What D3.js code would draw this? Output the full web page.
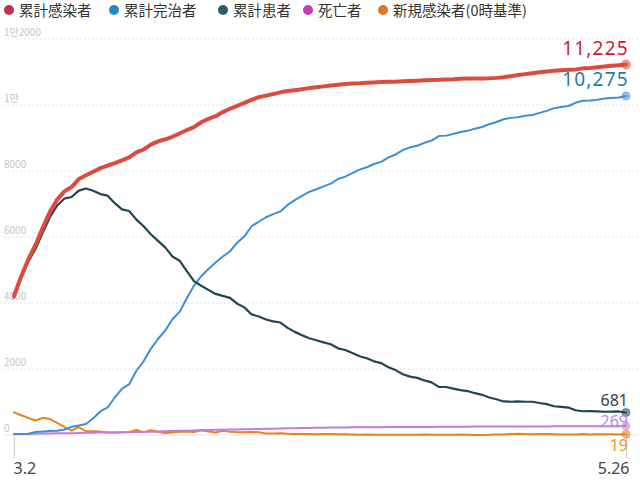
<!DOCTYPE html>
<html><head><meta charset="utf-8">
<script src="https://cdn.jsdelivr.net/npm/d3@7"></script>
<style>
html,body{margin:0;padding:0;background:#fff;}
svg{display:block;}
</style></head>
<body>
<svg id="chart" width="640" height="480"></svg>
<script>
// ---- data (Mar 2 .. May 26, daily) ----
const startDate = new Date(2020, 2, 2);
const endDate = new Date(2020, 4, 26);
const dates = d3.timeDay.range(startDate, d3.timeDay.offset(endDate, 1));

const seriesNames = ["累計感染者", "累計完治者", "累計患者", "死亡者", "新規感染者(0時基準)"];

const confirmed = [4212,4812,5328,5766,6284,6767,7134,7382,7513,7755,7869,7979,8086,8162,8236,8320,8413,8565,8652,8799,8897,8961,9037,9137,9241,9332,9478,9583,9661,9786,
9887,9976,10062,10156,10237,10284,10331,10384,10423,10450,10480,10512,10537,10564,10591,10613,10635,10653,10661,10674,10683,10694,10702,10708,10718,10728,10738,10752,10761,10765,
10774,10780,10793,10801,10804,10806,10810,10822,10840,10874,10909,10936,10962,10991,11018,11037,11050,11065,11078,11110,11122,11142,11165,11190,11206,11225];

const released = [30,34,41,88,108,118,130,166,247,288,333,510,714,834,1137,1401,1540,1947,2233,2612,2909,3166,3507,3730,4144,4528,4811,5033,5228,5408,
5567,5828,6021,6325,6463,6598,6694,6776,6973,7117,7243,7368,7447,7534,7616,7757,7829,7937,8042,8114,8213,8277,8411,8501,8635,8717,8764,8854,8922,9059,
9072,9123,9183,9217,9283,9333,9419,9484,9568,9610,9632,9671,9695,9762,9821,9904,9938,9970,10066,10127,10135,10162,10194,10213,10226,10275];

const patients = [4160,4750,5255,5643,6134,6605,6954,7165,7212,7407,7470,7402,7300,7253,7024,6838,6789,6527,6325,6085,5884,5684,5410,5281,4966,4665,4523,4398,4275,4216,
4155,3979,3867,3654,3591,3500,3445,3408,3246,3125,3026,2930,2873,2808,2750,2627,2576,2484,2385,2324,2233,2179,2051,1967,1841,1768,1731,1654,1593,1459,
1454,1407,1360,1332,1267,1218,1135,1082,1016,1008,1021,1007,1008,969,937,871,850,832,749,719,723,716,705,711,713,681];

const deaths = [22,28,32,35,42,44,50,51,54,60,66,67,72,75,75,81,84,91,94,102,104,111,120,126,131,139,144,152,158,162,
165,169,174,177,183,186,192,200,204,208,211,214,217,222,225,229,230,232,234,236,237,238,240,240,242,243,243,244,246,247,
248,250,250,252,254,255,256,256,256,256,256,258,259,260,260,262,262,263,263,264,264,264,266,266,267,269];

const newCases = [686,600,516,438,518,483,367,248,131,242,114,110,107,76,74,84,93,152,87,147,98,64,76,100,104,91,146,105,78,125,
101,89,86,94,81,47,47,53,39,27,30,32,25,27,27,22,22,18,8,13,9,11,8,6,10,10,10,14,9,4,
9,6,13,8,3,2,4,12,18,34,35,27,26,29,27,19,13,15,13,32,12,20,23,25,16,19];

const yTickValues = [0, 2000, 4000, 6000, 8000, 10000, 12000];
const yTickLabels = ["0", "2000", "4000", "6000", "8000", "1만", "1만2000"];
const xTickLabels = ["3.2", "5.26"];

// ---- styling ----
const lineColors = ["#dd4a3e", "#3b8fd8", "#1f4656", "#c57cd6", "#e8821e"];
const legendColors = ["#c3304a", "#1f8ac9", "#2f5c6c", "#c43fb3", "#e27422"];
const labelColors = ["#c81e3c", "#1b7fa8", "#2c4556", "#b48ae0", "#e8962c"];
const lineWidths = [4, 2, 2.2, 2, 2];

const svg = d3.select("#chart");
const x = d3.scaleTime().domain([startDate, endDate]).range([14, 626]);
const y = d3.scaleLinear().domain([0, 12000]).range([435, 39]);

// gridlines
const grid = svg.append("g");
grid.selectAll("line").data(yTickValues).join("line")
  .attr("x1", 4).attr("x2", 638)
  .attr("y1", d => y(d)).attr("y2", d => y(d))
  .attr("stroke", "#e6e6e6").attr("stroke-width", 1)
  .attr("stroke-dasharray", d => d === 0 ? null : "2,2");

// y labels
const yAxis = d3.axisLeft(y).tickValues(yTickValues)
  .tickFormat((d, i) => yTickLabels[i]).tickSize(0);
const ya = svg.append("g").attr("transform", "translate(4,0)").call(yAxis);
ya.select(".domain").remove();
ya.selectAll("text")
  .attr("text-anchor", "start").attr("x", 0).attr("dy", "-4px")
  .style("font-family", "'Noto Sans CJK KR', 'Noto Sans', sans-serif")
  .style("font-size", "10px").attr("fill", "#c4c4c4");

// x axis (first & last ticks)
const xAxis = d3.axisBottom(x).tickValues([startDate, endDate])
  .tickFormat((d, i) => xTickLabels[i]).tickSize(21).tickPadding(5);
const xa = svg.append("g").attr("transform", "translate(0,437)").call(xAxis);
xa.select(".domain").remove();
xa.selectAll(".tick line").attr("stroke", "#cfcfcf").attr("stroke-width", 1.2);
xa.selectAll("text")
  .style("font-family", "'Noto Sans', sans-serif").style("font-size", "16px")
  .attr("fill", "#444")
  .attr("text-anchor", (d, i) => i === 0 ? "start" : "end")
  .attr("dx", (d, i) => i === 0 ? "-1px" : "3px");

// lines
const allSeries = [confirmed, released, patients, deaths, newCases];
const drawOrder = [4, 3, 1, 2, 0];
const lineGen = d3.line().x((d, i) => x(dates[i])).y(d => y(d)).curve(d3.curveLinear);
const lines = svg.append("g");
drawOrder.forEach(k => {
  lines.append("path").datum(allSeries[k])
    .attr("d", lineGen)
    .attr("fill", "none").attr("stroke", lineColors[k])
    .attr("stroke-width", lineWidths[k])
    .attr("stroke-linejoin", "round").attr("stroke-linecap", "round");
});

// end dots
const last = dates.length - 1;
drawOrder.forEach(k => {
  svg.append("circle")
    .attr("cx", x(dates[last])).attr("cy", y(allSeries[k][last]))
    .attr("r", k === 0 ? 4.5 : 4)
    .attr("fill", lineColors[k]).attr("fill-opacity", 0.55)
    .attr("stroke", lineColors[k]).attr("stroke-opacity", 0.5).attr("stroke-width", 1);
});

// end value labels
const fmt = d3.format(",");
const endLabelDy = [-10, -10, -7, 1, 17];
const endLabelSize = [19, 19, 16, 16, 16];
const endLabelSpacing = [1.2, 1.2, 0, 0, 0];
[0, 1, 2, 3, 4].forEach(k => {
  const v = allSeries[k][last];
  svg.append("text")
    .attr("x", 630 - endLabelSpacing[k] - (k >= 2 ? 2 : 0))
    .attr("y", y(v) + endLabelDy[k])
    .attr("text-anchor", "end")
    .style("font-family", "'Noto Sans', sans-serif")
    .style("font-size", endLabelSize[k] + "px")
    .style("letter-spacing", endLabelSpacing[k] + "px")
    .attr("fill", labelColors[k])
    .text(fmt(v));
});

// legend
const legendX = [9, 114, 223, 308, 383];
const lg = svg.append("g");
seriesNames.forEach((name, k) => {
  const g = lg.append("g").attr("transform", `translate(${legendX[k]},10)`);
  g.append("circle").attr("r", 5).attr("fill", legendColors[k]);
  g.append("text").attr("x", 10).attr("y", 5.5)
    .style("font-family", "'Noto Sans CJK JP', sans-serif")
    .style("font-size", "14.5px").attr("fill", "#333")
    .text(name);
});
</script>
</body></html>
